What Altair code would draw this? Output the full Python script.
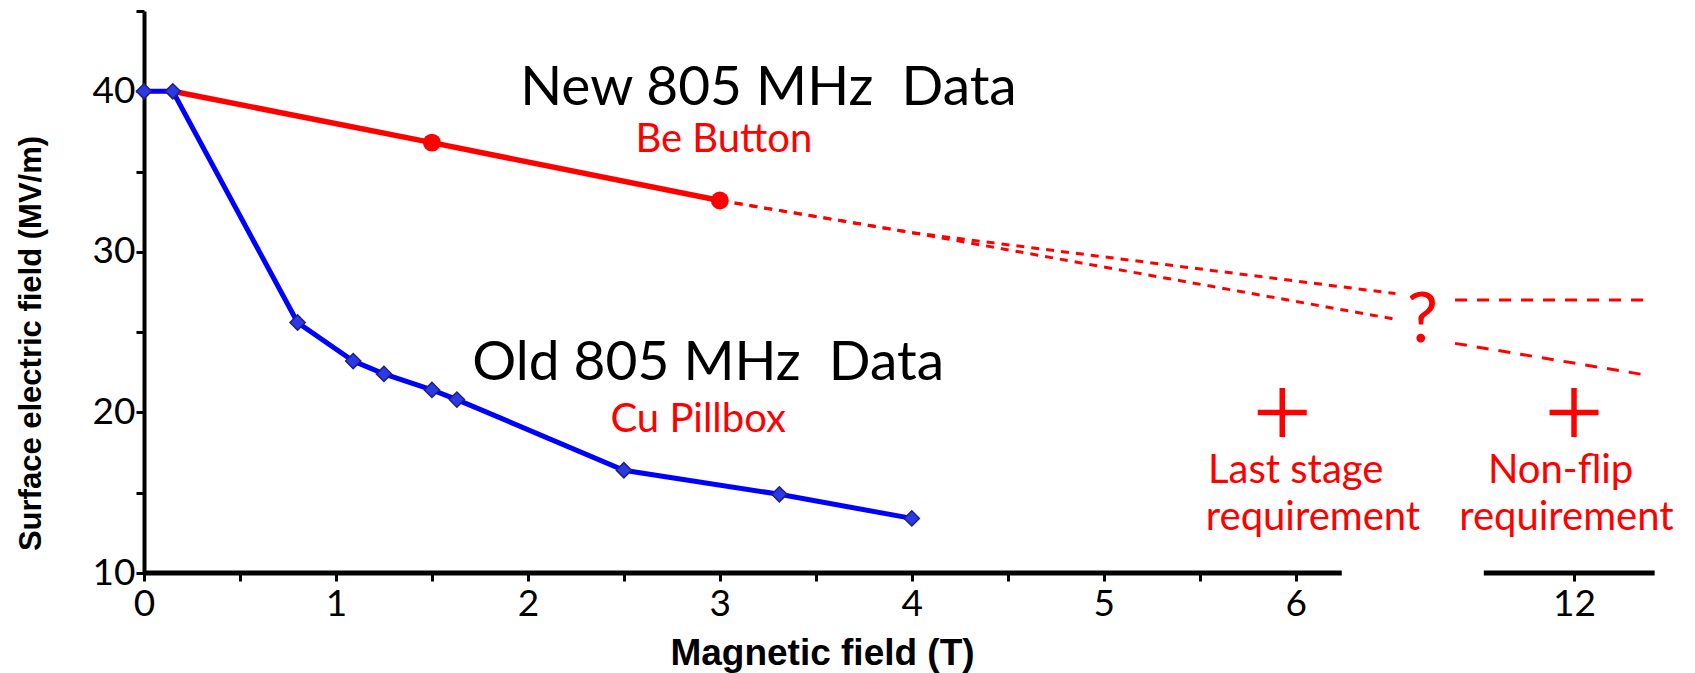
import altair as alt
import pandas as pd

# ---- data (x in display units; 12 T is drawn after the axis break at 7.45) ----
old_x = [0.0, 0.15, 0.80, 1.09, 1.25, 1.50, 1.63, 2.50, 3.31, 4.00]
old_y = [40.0, 40.0, 25.6, 23.2, 22.4, 21.4, 20.8, 16.4, 14.9, 13.4]

new_x = [0.15, 1.50, 3.00]
new_y = [40.0, 36.8, 33.2]
new_marker_x = [1.50, 3.00]
new_marker_y = [36.8, 33.2]

upper_x = [3.0, 4.0, 6.52]
upper_y = [33.2, 31.2, 27.4]
lower_x = [3.0, 4.0, 6.52]
lower_y = [33.2, 31.2, 25.8]
upper_tail_x = [6.83, 7.84]
upper_tail_y = [27.0, 27.0]
lower_tail_x = [6.83, 7.84]
lower_tail_y = [24.3, 22.3]

req_x = [5.93, 7.45]
req_y = [20.0, 20.0]

axis_seg_start = [0.0, 6.98]
axis_seg_end = [6.24, 7.87]
axis_seg_y = [10.0, 10.0]

x_tick_values = [0, 0.5, 1, 1.5, 2, 2.5, 3, 3.5, 4, 4.5, 5, 5.5, 6, 7.45]
y_tick_values = [10, 15, 20, 25, 30, 35, 40, 45]

NB = "\u00a0"
big_labels = ["New 805 MHz" + NB + " Data", "Old 805 MHz" + NB + " Data"]
big_x = [1.96, 1.71]
big_y = [39.15, 22.0]
sub_labels = ["Be Button", "Cu Pillbox"]
sub_x = [2.56, 2.43]
sub_y = [36.2, 18.8]
req_labels = ["Last stage", "requirement", "Non-flip", "requirement"]
req_lab_x = [6.0, 6.09, 7.38, 7.41]
req_lab_y = [15.6, 12.7, 15.6, 12.7]
q_label = ["?"]
q_x = [6.66]
q_y = [25.7]

FONT = "Lato"
XDOM = [0, 7.95]
YDOM = [10, 45]

xs = alt.Scale(domain=XDOM, nice=False, zero=False)
ys = alt.Scale(domain=YDOM, nice=False, zero=False)

old_df = pd.DataFrame({"x": old_x, "y": old_y})
new_df = pd.DataFrame({"x": new_x, "y": new_y})
newm_df = pd.DataFrame({"x": new_marker_x, "y": new_marker_y})
dash_df = pd.DataFrame({
    "x": upper_x + lower_x,
    "y": upper_y + lower_y,
    "seg": ["u"] * len(upper_x) + ["l"] * len(lower_x),
})
tail_df = pd.DataFrame({
    "x": upper_tail_x + lower_tail_x,
    "y": upper_tail_y + lower_tail_y,
    "seg": ["u"] * len(upper_tail_x) + ["l"] * len(lower_tail_x),
})
req_df = pd.DataFrame({"x": req_x, "y": req_y})
axseg_df = pd.DataFrame({"x": axis_seg_start, "x2": axis_seg_end, "y": axis_seg_y})
big_df = pd.DataFrame({"x": big_x, "y": big_y, "t": big_labels})
sub_df = pd.DataFrame({"x": sub_x, "y": sub_y, "t": sub_labels})
reqlab_df = pd.DataFrame({"x": req_lab_x, "y": req_lab_y, "t": req_labels})
q_df = pd.DataFrame({"x": q_x, "y": q_y, "t": q_label})

x_axis = alt.Axis(
    title="Magnetic field (T)",
    values=x_tick_values,
    labelExpr="datum.value > 7 ? '12' : (datum.value % 1 == 0 ? format(datum.value, 'd') : '')",
    domain=False, grid=False,
    tickSize=8, tickWidth=3, tickColor="black",
    labelFont=FONT, labelFontSize=37, labelColor="black", labelPadding=5,
    labelOverlap=False, labelFlush=False,
    titleFont="Liberation Sans", titleFontSize=37, titleFontWeight="bold", titleColor="black",
    titleX=678, titleY=80, titleBaseline="middle", titleAlign="center",
)
y_axis = alt.Axis(
    title="Surface electric field (MV/m)",
    values=y_tick_values,
    labelExpr="datum.value % 10 == 0 ? format(datum.value, 'd') : ''",
    domain=True, domainWidth=4, domainColor="black", grid=False,
    tickSize=8, tickWidth=3, tickColor="black",
    labelFont=FONT, labelFontSize=37, labelColor="black", labelPadding=1,
    labelOverlap=False, labelFlush=False,
    titleFont="Liberation Sans", titleFontSize=31, titleFontWeight="bold", titleColor="black",
    titleX=-113, titleY=332, titleBaseline="middle", titleAlign="center", titleAngle=270,
)

X = alt.X("x:Q", scale=xs, axis=x_axis)
Y = alt.Y("y:Q", scale=ys, axis=y_axis)
Xn = alt.X("x:Q", scale=xs)
Yn = alt.Y("y:Q", scale=ys)

axis_line = alt.Chart(axseg_df).mark_rule(color="black", strokeWidth=5).encode(
    x=X, x2="x2:Q", y=Y)

old_line = alt.Chart(old_df).mark_line(color="#0000ff", strokeWidth=5).encode(x=Xn, y=Yn)
old_pts = alt.Chart(old_df).mark_point(
    shape="diamond", filled=True, fill="#2a3ae8", stroke="#20207a", strokeWidth=1.5,
    size=230, opacity=1).encode(x=Xn, y=Yn)

new_line = alt.Chart(new_df).mark_line(color="#ff0000", strokeWidth=5.5).encode(x=Xn, y=Yn)
new_pts = alt.Chart(newm_df).mark_point(
    shape="circle", filled=True, color="#ff0000", size=320, opacity=1).encode(x=Xn, y=Yn)

dash = alt.Chart(dash_df).mark_line(color="#ff0000", strokeWidth=3, strokeDash=[8, 7]).encode(
    x=Xn, y=Yn, detail="seg:N")
tail = alt.Chart(tail_df).mark_line(color="#ff0000", strokeWidth=3, strokeDash=[12, 10]).encode(
    x=Xn, y=Yn, detail="seg:N")

plus = alt.Chart(req_df).mark_point(
    shape="M-1,0L1,0M0,-1L0,1", filled=False, stroke="#ff0000", strokeWidth=5.5,
    size=2400, opacity=1).encode(x=Xn, y=Yn)

big_txt = alt.Chart(big_df).mark_text(
    font=FONT, fontSize=55, color="black", align="left", baseline="alphabetic").encode(
    x=Xn, y=Yn, text="t:N")
sub_txt = alt.Chart(sub_df).mark_text(
    font=FONT, fontSize=40, color="#ff0000", align="left", baseline="alphabetic").encode(
    x=Xn, y=Yn, text="t:N")
req_txt = alt.Chart(reqlab_df).mark_text(
    font=FONT, fontSize=40, color="#ff0000", align="center", baseline="alphabetic").encode(
    x=Xn, y=Yn, text="t:N")
q_txt = alt.Chart(q_df).mark_text(
    font=FONT, fontSize=70, color="#ff0000", align="center", baseline="middle").encode(
    x=Xn, y=Yn, text="t:N")

chart = alt.layer(
    axis_line, old_line, new_line, dash, tail, old_pts, new_pts, plus,
    big_txt, sub_txt, req_txt, q_txt,
).properties(
    width=1526, height=562,
    autosize=alt.AutoSizeParams(type="none"),
    padding={"left": 144, "top": 11, "right": 25, "bottom": 100},
    background="white",
).configure_view(stroke=None)

chart.save("out.html", embed_options={"renderer": "svg", "actions": False})
